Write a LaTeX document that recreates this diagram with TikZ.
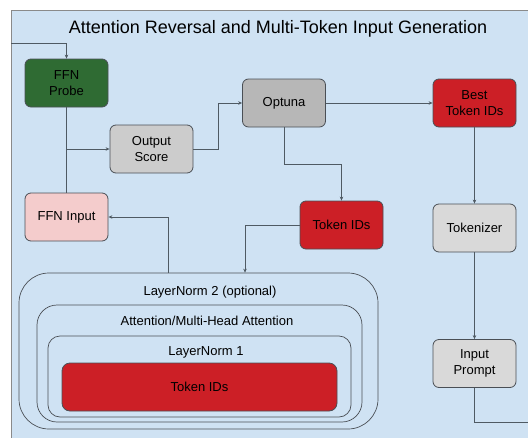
\documentclass[tikz,border=0pt]{standalone}
\usepackage{fontspec}
\setmainfont{Liberation Sans}
\usetikzlibrary{arrows.meta}
\definecolor{panelbg}{HTML}{CFE2F3}
\definecolor{panelline}{HTML}{8A8A8A}
\definecolor{edgecol}{HTML}{4A4F55}
\definecolor{linecol}{HTML}{4F5A63}
\definecolor{probegreen}{HTML}{2F6B33}
\definecolor{tokred}{HTML}{CC1F26}
\definecolor{graya}{HTML}{B7B7B7}
\definecolor{grayb}{HTML}{CCCCCC}
\definecolor{grayc}{HTML}{D9D9D9}
\definecolor{pinkc}{HTML}{F4CCCC}
\begin{document}
\begin{tikzpicture}[x=1pt,y=-1pt,
  box/.style={draw=edgecol,line width=0.8pt,rounded corners=6pt,minimum width=83pt,minimum height=48pt,align=center,inner sep=0pt,font=\fontsize{13}{15.5}\selectfont},
  nest/.style={draw=edgecol,line width=0.7pt,inner sep=0pt},
  lbl/.style={font=\fontsize{13}{15.5}\selectfont,inner sep=0pt},
  conn/.style={draw=linecol,line width=0.9pt},
  arr/.style={conn,-{Stealth[length=4pt,width=3.5pt]}}]
\useasboundingbox (0,0) rectangle (528,437);
\clip (0,0) rectangle (528,437);
\fill[white] (0,0) rectangle (528,437);
\draw[fill=panelbg,draw=panelline,line width=0.8pt] (11,10) rectangle (560,470);
\node[font=\fontsize{18}{21}\selectfont,inner sep=0pt] (title) at (278,29) {Attention Reversal and Multi-Token Input Generation};
% main nodes
\node[box,fill=probegreen] (probe) at (66.5,83) {FFN\\Probe};
\node[box,fill=grayb] (score) at (151.5,149) {Output\\Score};
\node[box,fill=graya] (optuna) at (284,103) {Optuna};
\node[box,fill=tokred] (best) at (474.5,103) {Best\\Token IDs};
\node[box,fill=tokred] (tokids) at (341.5,225) {Token IDs};
\node[box,fill=grayc] (tokenizer) at (474.5,228) {Tokenizer};
\node[box,fill=grayc] (prompt) at (474.5,363.5) {Input\\Prompt};
\node[box,fill=pinkc] (ffninput) at (66.5,217) {FFN Input};
% nested boxes
\node[nest,rounded corners=30pt,minimum width=359pt,minimum height=156pt] (ln2) at (198.5,351) {};
\node[nest,rounded corners=20pt,minimum width=325pt,minimum height=117pt] (attn) at (199.5,363.5) {};
\node[nest,rounded corners=12pt,minimum width=303pt,minimum height=81pt] (ln1) at (199.5,376.5) {};
\node[box,fill=tokred,rounded corners=8pt,minimum width=275pt,minimum height=48pt] (inner) at (199.5,387) {Token IDs};
\node[lbl] (ln2lbl) at (210,292) {LayerNorm 2 (optional)};
\node[lbl] (attnlbl) at (207,321) {Attention/Multi-Head Attention};
\node[lbl] (ln1lbl) at (206,352) {LayerNorm 1};
% connectors
\coordinate (entry) at (11,43);
\coordinate (exit) at (540,422);
\draw[arr] (entry) -| (probe.north);
\draw[conn] (probe.south) -- (ffninput.north);
\coordinate (branch) at (probe.south |- score.west);
\draw[arr] (branch) -- (score.west);
\draw[arr] (score.east) -- ++(25,0) |- (optuna.west);
\draw[arr] (optuna.east) -- (best.west);
\draw[arr] (optuna.south) -- ++(0,37) -| (tokids.north);
\draw[arr] (tokids.west) -| ([xshift=46.5pt]ln2.north);
\draw[arr] ([xshift=-30.5pt]ln2.north) |- (ffninput.east);
\draw[arr] (best.south) -- (tokenizer.north);
\draw[arr] (tokenizer.south) -- (prompt.north);
\draw[conn] (prompt.south) |- (exit);
\end{tikzpicture}
\end{document}
